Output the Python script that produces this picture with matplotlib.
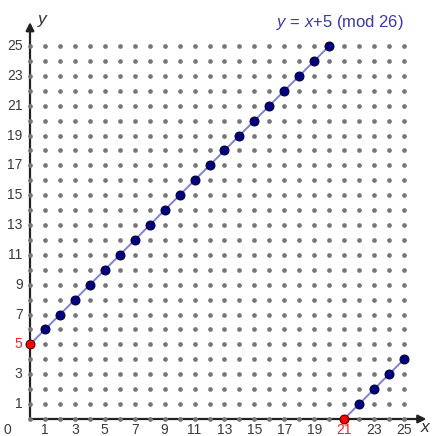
import matplotlib
matplotlib.use("Agg")
import matplotlib.pyplot as plt
import numpy as np

plt.rcParams['font.family'] = ['Liberation Sans', 'DejaVu Sans']
plt.rcParams['mathtext.fontset'] = 'custom'
plt.rcParams['mathtext.it'] = 'Liberation Sans:italic'
plt.rcParams['mathtext.rm'] = 'Liberation Sans'

grid_x = list(range(26))
grid_y = list(range(26))
seg1_x = [0, 1, 2, 3, 4, 5, 6, 7, 8, 9, 10, 11, 12, 13, 14, 15, 16, 17, 18, 19, 20]
seg1_y = [5, 6, 7, 8, 9, 10, 11, 12, 13, 14, 15, 16, 17, 18, 19, 20, 21, 22, 23, 24, 25]
seg2_x = [21, 22, 23, 24, 25]
seg2_y = [0, 1, 2, 3, 4]
red_x = [0, 21]
red_y = [5, 0]
x_ticks = [1, 3, 5, 7, 9, 11, 13, 15, 17, 19, 21, 23, 25]
y_ticks = [1, 3, 5, 7, 9, 11, 13, 15, 17, 19, 21, 23, 25]
title = "$y$ = $x$+5 (mod 26)"

fig = plt.figure(figsize=(4.38, 4.36), dpi=100)
ax = fig.add_axes([0, 0, 1, 1])
sx = 14.96
sy = 14.92
ax.set_xlim(-30 / sx, (438 - 30) / sx)
ax.set_ylim((419 - 436) / sy, 419 / sy)
ax.axis('off')

# axes with arrows
ax.annotate('', xy=(0, 26.6), xytext=(0, 0),
            arrowprops=dict(arrowstyle='-|>', color='#222222', lw=1.6,
                            mutation_scale=12, shrinkA=0, shrinkB=0), zorder=2)
ax.annotate('', xy=(26.5, 0), xytext=(0, 0),
            arrowprops=dict(arrowstyle='-|>', color='#222222', lw=1.6,
                            mutation_scale=12, shrinkA=0, shrinkB=0), zorder=2)

gx, gy = np.meshgrid(grid_x, grid_y)
ax.plot(gx.ravel(), gy.ravel(), 'o', color='#777777', ms=3.4, mew=0, zorder=3)

line_c = '#8080d8'
ax.plot(seg1_x, seg1_y, '-', color=line_c, lw=1.4, zorder=4)
ax.plot(seg2_x, seg2_y, '-', color=line_c, lw=1.4, zorder=4)
ax.plot(seg1_x[1:], seg1_y[1:], 'o', color='#000080', mec='#000033', ms=6.4, mew=0.8, zorder=5)
ax.plot(seg2_x[1:], seg2_y[1:], 'o', color='#000080', mec='#000033', ms=6.4, mew=0.8, zorder=5)
ax.plot(red_x, red_y, 'o', color='#ff0000', mec='#550000', ms=6.4, mew=0.8, zorder=6)

tick_c = '#3a3a3a'
fs = 10
for v in y_ticks:
    ax.text(-0.5, v, str(v), ha='right', va='center', fontsize=fs,
            color='#ff2020' if v == 5 else tick_c)
for v in x_ticks:
    ax.text(v, -0.75, str(v), ha='center', va='center', fontsize=fs,
            color='#ff2020' if v == 21 else tick_c)
ax.text(-1.5, -0.75, '0', ha='center', va='center', fontsize=fs, color=tick_c)

ax.text(0.85, 26.8, 'y', fontsize=12.5, style='italic', color='#333333', ha='center', va='center')
ax.text(26.4, -0.6, 'x', fontsize=12.5, style='italic', color='#333333', ha='center', va='center')

ax.text(20.7, 26.6, title, fontsize=12, color='#3a3aa0', ha='center', va='center')

fig.savefig('out.png', dpi=100)
